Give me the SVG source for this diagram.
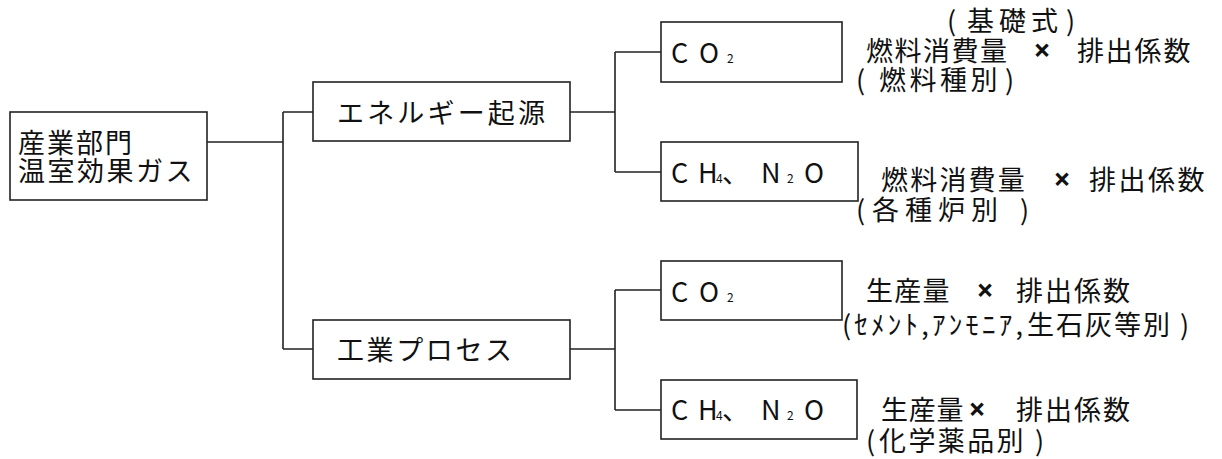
<svg xmlns="http://www.w3.org/2000/svg" width="1222" height="459" viewBox="0 0 1222 459">
<style>
.box{fill:#fff;stroke:#222;stroke-width:1.6}
.ln{fill:none;stroke:#222;stroke-width:1.6}
text{font-family:"Noto Sans CJK JP","Noto Sans CJK SC",sans-serif;fill:#111}
.t{font-size:27px}
.b{font-size:27px}
.s{font-size:12px}
.x{font-family:"Noto Sans",sans-serif;font-size:30px;font-weight:bold}
</style>
<rect width="1222" height="459" fill="#fff"/>
<g id="connectors">
<path class="ln" d="M207,142 H283 M283,112 V349 M283,112 H313 M283,349 H313"/>
<path class="ln" d="M570,112 H615 M615,52 V172 M615,52 H661 M615,172 H661"/>
<path class="ln" d="M570,349 H615 M615,290 V410 M615,290 H661 M615,410 H661"/>
</g>
<g id="root">
<rect class="box" x="10" y="112" width="197" height="88"/>
<text class="b"><tspan x="18" y="153" letter-spacing="2">産業部門</tspan><tspan x="18" y="181" letter-spacing="2.5">温室効果ガス</tspan></text>
</g>
<g id="energy">
<rect class="box" x="313" y="82" width="257" height="59"/>
<text class="b" x="337" y="123" textLength="208">エネルギー起源</text>
</g>
<g id="industry">
<rect class="box" x="313" y="320" width="257" height="59"/>
<text class="b" x="337" y="360" textLength="175">工業プロセス</text>
</g>
<g id="co2-energy">
<rect class="box" x="661" y="22" width="181" height="60"/>
<text class="b" y="63"><tspan x="671">C</tspan><tspan x="699">O</tspan><tspan class="s" x="727">2</tspan></text>
</g>
<g id="ch4-energy">
<rect class="box" x="661" y="142" width="197" height="59"/>
<text class="b" y="183"><tspan x="671">C</tspan><tspan x="698">H</tspan><tspan class="s" x="716">4</tspan><tspan x="722">、</tspan><tspan x="761">N</tspan><tspan class="s" x="787">2</tspan><tspan x="804">O</tspan></text>
</g>
<g id="co2-industry">
<rect class="box" x="661" y="261" width="181" height="59"/>
<text class="b" y="302"><tspan x="671">C</tspan><tspan x="699">O</tspan><tspan class="s" x="727">2</tspan></text>
</g>
<g id="ch4-industry">
<rect class="box" x="661" y="380" width="196" height="59"/>
<text class="b" y="420"><tspan x="671">C</tspan><tspan x="698">H</tspan><tspan class="s" x="716">4</tspan><tspan x="722">、</tspan><tspan x="761">N</tspan><tspan class="s" x="787">2</tspan><tspan x="804">O</tspan></text>
</g>
<g id="formula-co2-energy">
<text class="t" y="31"><tspan x="947">(</tspan><tspan x="967" letter-spacing="5">基礎式</tspan><tspan x="1066">)</tspan></text>
<text class="t" y="61"><tspan x="866" letter-spacing="1.5">燃料消費量</tspan></text>
<text class="x" x="1042" y="61" text-anchor="middle">×</text>
<text class="t" y="61"><tspan x="1077" letter-spacing="1.8">排出係数</tspan></text>
<text class="t" y="90"><tspan x="856">(</tspan><tspan x="879" letter-spacing="3.5">燃料種別</tspan><tspan x="1005">)</tspan></text>
</g>
<g id="formula-ch4-energy">
<text class="t" y="190"><tspan x="881" letter-spacing="2.2">燃料消費量</tspan></text>
<text class="x" x="1062" y="190" text-anchor="middle">×</text>
<text class="t" y="190"><tspan x="1089" letter-spacing="2.5">排出係数</tspan></text>
<text class="t" y="220"><tspan x="856">(</tspan><tspan x="872" letter-spacing="6">各種炉別</tspan><tspan x="1020">)</tspan></text>
</g>
<g id="formula-co2-industry">
<text class="t" y="301"><tspan x="866" letter-spacing="1.3">生産量</tspan></text>
<text class="x" x="985" y="301" text-anchor="middle">×</text>
<text class="t" y="301"><tspan x="1016" letter-spacing="2">排出係数</tspan></text>
<text class="t" x="842" y="335" textLength="181">(ｾﾒﾝﾄ,ｱﾝﾓﾆｱ,</text>
<text class="t" y="335"><tspan x="1027" letter-spacing="2">生石灰等別</tspan><tspan x="1180">)</tspan></text>
</g>
<g id="formula-ch4-industry">
<text class="t" y="420"><tspan x="881" letter-spacing="0.7">生産量</tspan></text>
<text class="x" x="977" y="420" text-anchor="middle">×</text>
<text class="t" y="420"><tspan x="1016" letter-spacing="2">排出係数</tspan></text>
<text class="t" y="451"><tspan x="866">(</tspan><tspan x="879" letter-spacing="2.4">化学薬品別</tspan><tspan x="1035">)</tspan></text>
</g>
</svg>
